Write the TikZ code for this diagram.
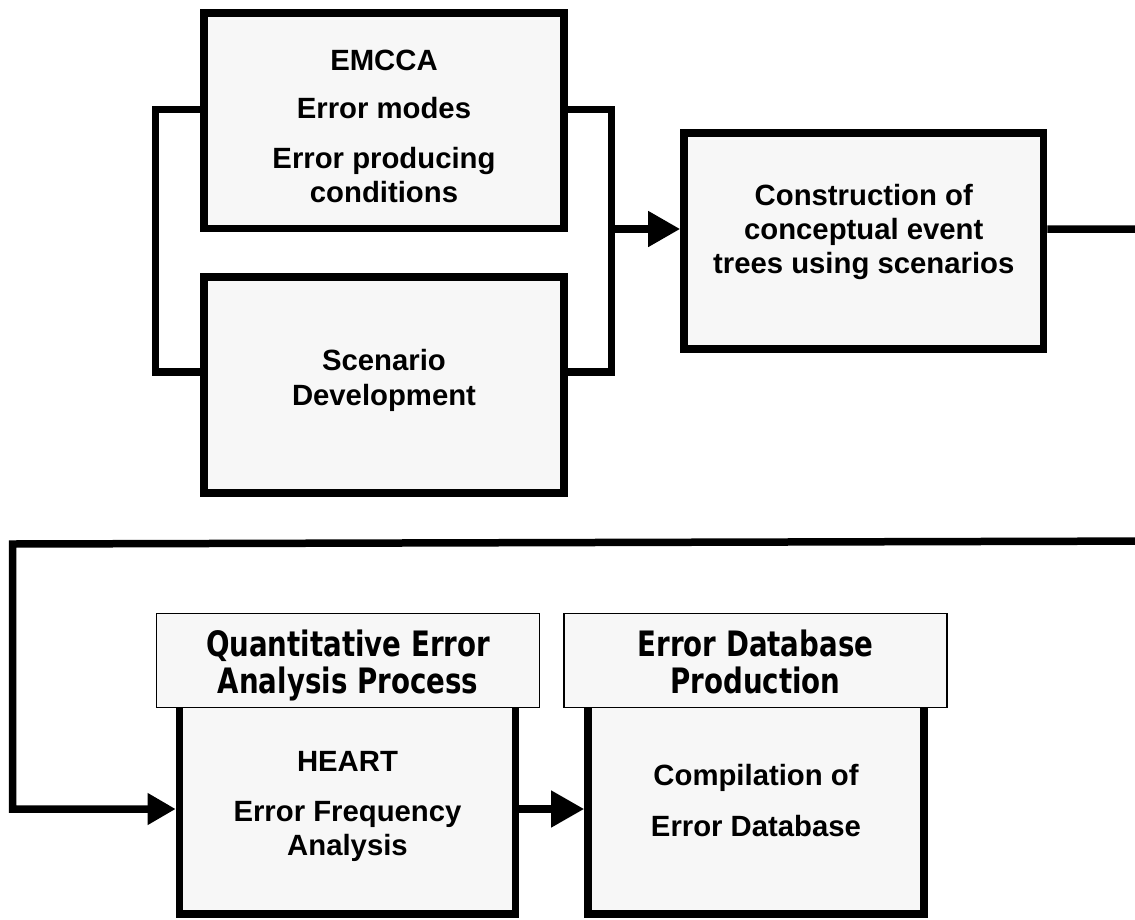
\documentclass[tikz,border=0pt]{standalone}
\usepackage{fontspec}
\setmainfont{Liberation Sans}
\newfontfamily\hdrfont[FakeStretch=0.79]{DejaVu Sans}
\usetikzlibrary{arrows.meta}
\definecolor{boxgray}{HTML}{F7F7F7}

\tikzset{
  box/.style={draw=black, line width=7.6pt, fill=boxgray, inner sep=0pt, line join=miter},
  hdrbox/.style={draw=black, line width=1.5pt, fill=boxgray, inner sep=0pt},
  conn/.style={line width=7.5pt, line join=miter, line cap=butt},
  % texts are placed by the baseline of their last line
  body/.style={font=\bfseries\fontsize{29.3}{34}\selectfont, align=center, anchor=base, inner sep=0pt},
  head/.style={font=\hdrfont\bfseries\fontsize{35}{37}\selectfont, align=center, anchor=base, inner sep=0pt},
}

\begin{document}
\begin{tikzpicture}[x=1pt, y=-1pt]
  \path[use as bounding box, fill=white] (0,0) rectangle (1135,919);
  \clip (0,0) rectangle (1135,919);

  % bracket and loop coordinates
  \coordinate (lt) at (155.5,109.5);
  \coordinate (lb) at (155.5,372);
  \coordinate (rt) at (611.3,109.5);
  \coordinate (rb) at (611.3,372);
  \coordinate (rm) at (611.3,229);
  \coordinate (farT) at (1170,229);
  \coordinate (farB) at (1170,541);
  \coordinate (loopL) at (12.5,544);

  % boxes of the first stage
  \node[box, minimum width=360pt, minimum height=215.5pt] (emcca) at (384,120.75) {};
  \node[box, minimum width=360pt, minimum height=215.6pt] (scen) at (384,385) {};
  \node[box, minimum width=359.5pt, minimum height=215.8pt] (cons) at (863.75,240.9) {};

  % boxes of the second stage
  \node[box, minimum width=336pt, minimum height=210pt] (quant) at (347.5,809) {};
  \node[box, minimum width=336pt, minimum height=210pt] (dbase) at (756,809) {};
  \node[hdrbox, minimum width=383pt, minimum height=94.4pt] (quanthd) at (348,660.5) {};
  \node[hdrbox, minimum width=383pt, minimum height=94.4pt] (dbhd) at (755.5,660.5) {};

  % connectors
  \draw[conn] (emcca.west |- lt) -- (lt) -- (lb) -- (scen.west |- lb);
  \draw[conn] (emcca.east |- rt) -- (rt) -- (rb) -- (scen.east |- rb);
  \draw[conn, -{Triangle[length=32pt,width=34pt]}] (rm) -- (cons.west |- rm);
  \draw[conn, -{Triangle[length=28pt,width=30pt]}]
    (cons.east |- rm) -- (farT) -- (farB) -- (loopL) -- (loopL |- quant.west) -- (quant.west);
  \draw[conn, -{Triangle[length=33pt,width=35pt]}] (quant.east) -- (dbase.west);

  % texts
  \node[body] (emccatxt) at (384,202.3) {EMCCA\\[14.3pt]Error modes\\[16pt]Error producing\\conditions};
  \node[body] (scentxt) at (384,405.7) {Scenario\\[1.7pt]Development};
  \node[body] (constxt) at (863.75,273) {Construction of\\conceptual event\\trees using scenarios};
  \node[body] (quanttxt) at (347.5,855.7) {HEART\\[16pt]Error Frequency\\Analysis};
  \node[body] (dbtxt) at (756,836.7) {Compilation of\\[17.7pt]Error Database};
  \node[head] (quanthdtxt) at (348,693) {Quantitative Error\\Analysis Process};
  \node[head] (dbhdtxt) at (755.5,693) {Error Database\\Production};
\end{tikzpicture}
\end{document}
